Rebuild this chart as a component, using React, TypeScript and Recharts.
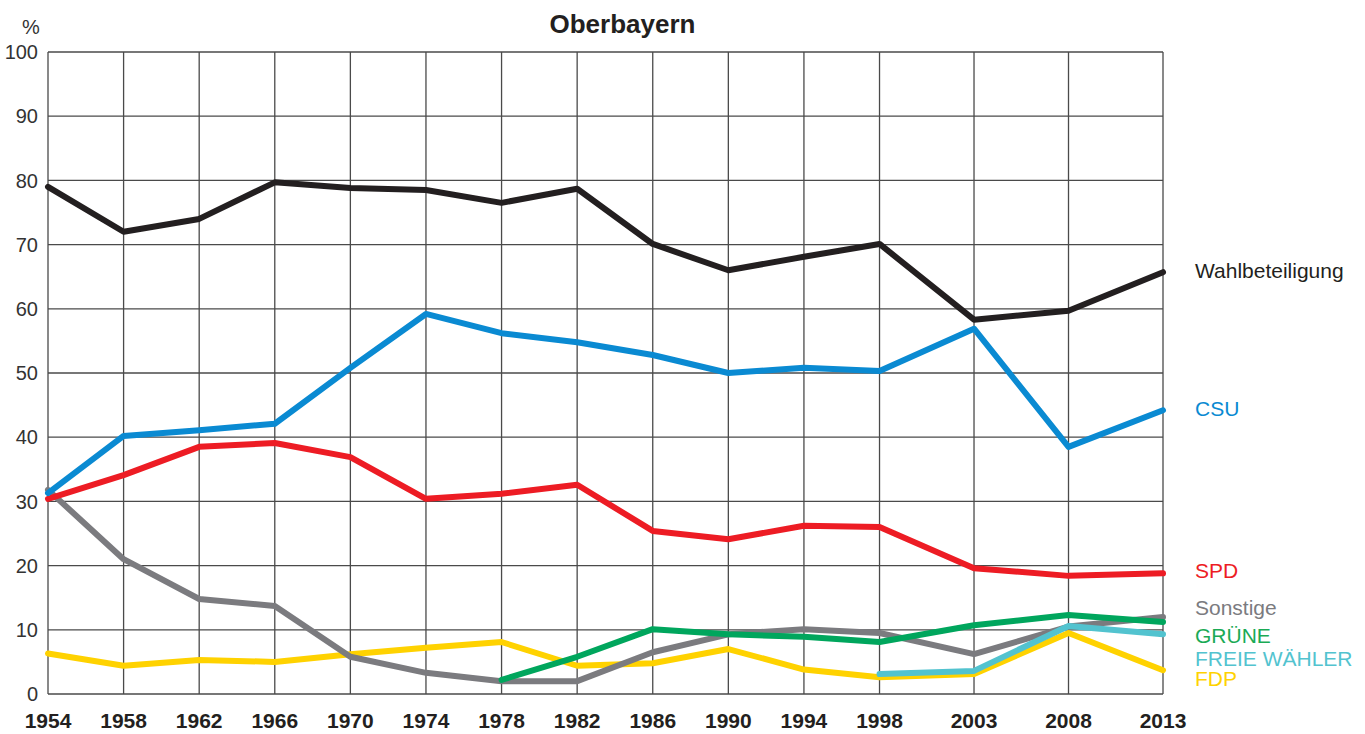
import React from 'react';
import { LineChart, Line, XAxis, YAxis, CartesianGrid } from 'recharts';

document.body.style.margin = '0';

const wahlYears = [1954, 1958, 1962, 1966, 1970, 1974, 1978, 1982, 1986, 1990, 1994, 1998, 2003, 2008, 2013];
const yTicks = [0, 10, 20, 30, 40, 50, 60, 70, 80, 90, 100];

const wahlbeteiligung = [79.0, 72.0, 74.0, 79.7, 78.8, 78.5, 76.5, 78.7, 70.1, 66.0, 68.1, 70.1, 58.3, 59.7, 65.7];
const csu = [31.3, 40.2, 41.1, 42.1, 50.8, 59.2, 56.2, 54.8, 52.8, 50.0, 50.8, 50.3, 56.9, 38.5, 44.2];
const spd = [30.4, 34.1, 38.5, 39.1, 36.9, 30.4, 31.2, 32.6, 25.4, 24.1, 26.2, 26.0, 19.6, 18.4, 18.8];
const sonstige = [31.8, 21.0, 14.8, 13.7, 5.8, 3.3, 2.0, 2.0, 6.5, 9.3, 10.1, 9.5, 6.2, 10.5, 12.0];
const gruene = [null, null, null, null, null, null, 2.2, 5.8, 10.1, 9.3, 8.9, 8.1, 10.7, 12.3, 11.2];
const freieWaehler = [null, null, null, null, null, null, null, null, null, null, null, 3.1, 3.6, 10.6, 9.3];
const fdp = [6.3, 4.4, 5.3, 5.0, 6.2, 7.2, 8.1, 4.4, 4.8, 7.0, 3.8, 2.6, 3.1, 9.5, 3.7];

const rows = wahlYears.map((year, i) => ({
  year,
  wahl: wahlbeteiligung[i],
  csu: csu[i],
  spd: spd[i],
  sonstige: sonstige[i],
  gruene: gruene[i],
  fw: freieWaehler[i],
  fdp: fdp[i],
}));

// drawn bottom to top
const seriesList = [
  { key: 'fdp', color: '#ffd200' },
  { key: 'sonstige', color: '#7b7b7f' },
  { key: 'gruene', color: '#00a65d' },
  { key: 'fw', color: '#52c3cf' },
  { key: 'spd', color: '#ed1c24' },
  { key: 'csu', color: '#0a8ad2' },
  { key: 'wahl', color: '#231f20' },
];

const endLabels = [
  { text: 'Wahlbeteiligung', color: '#231f20', top: 271 },
  { text: 'CSU', color: '#0a8ad2', top: 409 },
  { text: 'SPD', color: '#ed1c24', top: 571 },
  { text: 'Sonstige', color: '#7b7b7f', top: 608 },
  { text: 'GRÜNE', color: '#1aaa55', top: 636 },
  { text: 'FREIE WÄHLER', color: '#52c3cf', top: 659 },
  { text: 'FDP', color: '#ffd200', top: 679 },
];

export default function App() {
  return (
    <div style={{ position: 'relative', width: 1365, height: 734, background: '#fff', fontFamily: 'Liberation Sans, Arial, sans-serif' }}>
      <div
        style={{
          position: 'absolute',
          left: 0,
          width: 1245,
          top: 9,
          textAlign: 'center',
          fontWeight: 700,
          fontSize: 26,
          color: '#231f20',
        }}
      >
        Oberbayern
      </div>
      <div
        style={{
          position: 'absolute',
          left: 22,
          top: 16,
          fontFamily: 'Liberation Sans Narrow, Liberation Sans, sans-serif',
          fontSize: 20,
          color: '#333',
        }}
      >
        %
      </div>
      <LineChart
        width={1365}
        height={734}
        data={rows}
        margin={{ top: 52, right: 202, left: 0, bottom: 0 }}
      >
        <CartesianGrid stroke="#4a4a4a" strokeWidth={1.3} />
        <XAxis
          dataKey="year"
          type="number"
          domain={[1954, 2013]}
          ticks={wahlYears}
          height={40}
          axisLine={false}
          tickLine={false}
          tickSize={0}
          tickMargin={19}
          interval={0}
          tick={{ fontSize: 21, fontWeight: 700, fill: '#231f20', fontFamily: 'Liberation Sans, Arial, sans-serif' }}
        />
        <YAxis
          type="number"
          domain={[0, 100]}
          ticks={yTicks}
          width={48}
          axisLine={false}
          tickLine={false}
          tickSize={0}
          tickMargin={10}
          interval={0}
          tick={{ fontSize: 20, fill: '#333', fontFamily: 'Liberation Sans Narrow, Liberation Sans, sans-serif' }}
        />
        {seriesList.map((s) => (
          <Line
            key={s.key}
            dataKey={s.key}
            type="linear"
            stroke={s.color}
            strokeWidth={6}
            strokeLinejoin="round"
            strokeLinecap="round"
            dot={false}
            activeDot={false}
            isAnimationActive={false}
          />
        ))}
      </LineChart>
      {endLabels.map((l) => (
        <div
          key={l.text}
          style={{
            position: 'absolute',
            left: 1195,
            top: l.top - 10,
            fontSize: 21,
            lineHeight: '20px',
            color: l.color,
            whiteSpace: 'nowrap',
          }}
        >
          {l.text}
        </div>
      ))}
    </div>
  );
}
